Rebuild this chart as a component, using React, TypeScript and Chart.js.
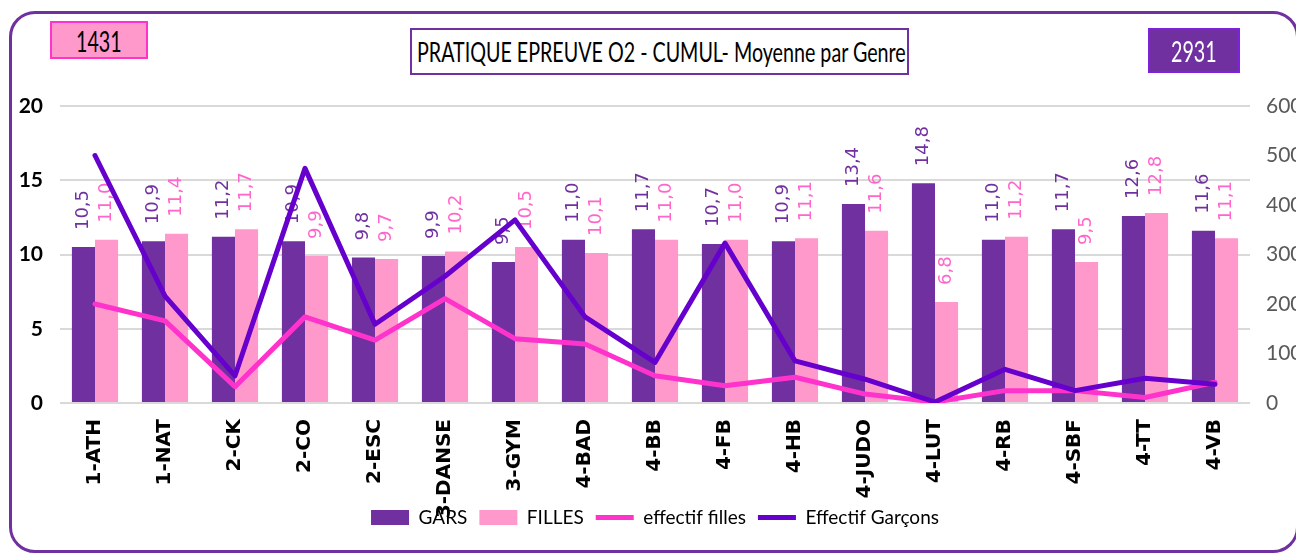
import React, { useEffect, useRef } from "react";
import { Chart, registerables } from "chart.js";

Chart.register(...registerables);

const categories = [
  "1-ATH", "1-NAT", "2-CK", "2-CO", "2-ESC", "3-DANSE", "3-GYM", "4-BAD", "4-BB",
  "4-FB", "4-HB", "4-JUDO", "4-LUT", "4-RB", "4-SBF", "4-TT", "4-VB",
];
const garsMoyenne = [10.5, 10.9, 11.2, 10.9, 9.8, 9.9, 9.5, 11.0, 11.7, 10.7, 10.9, 13.4, 14.8, 11.0, 11.7, 12.6, 11.6];
const fillesMoyenne = [11.0, 11.4, 11.7, 9.9, 9.7, 10.2, 10.5, 10.1, 11.0, 11.0, 11.1, 11.6, 6.8, 11.2, 9.5, 12.8, 11.1];
const effectifFilles = [200, 166, 33, 174, 127, 211, 130, 119, 55, 35, 52, 18, 2, 25, 25, 11, 42];
const effectifGarcons = [500, 216, 55, 474, 159, 256, 370, 174, 82, 323, 85, 48, 2, 68, 25, 50, 38];
const leftTicks = [0, 5, 10, 15, 20];
const rightTicks = [0, 100, 200, 300, 400, 500, 600];
const totalFilles = "1431";
const totalGarcons = "2931";
const title = "PRATIQUE EPREUVE O2 - CUMUL- Moyenne par Genre";

const CAL = "Lato, 'Liberation Sans', sans-serif";
const VERDANA = "'DejaVu Sans', Verdana, sans-serif";

const barLabelPlugin = {
  id: "barLabels",
  afterLayout(chart: any) {
    // let the long rotated category labels run under the legend, as in the original
    chart.scales.x.bottom = chart.height;
  },
  afterDatasetDraw(chart: any, args: any) {
    const ds = chart.data.datasets[args.index];
    if (ds.type !== "bar") return;
    const ctx = chart.ctx;
    ctx.save();
    ctx.font = `18px ${VERDANA}`;
    ctx.fillStyle = ds.labelColor;
    ctx.textAlign = "left";
    ctx.textBaseline = "middle";
    args.meta.data.forEach((el: any, i: number) => {
      const v = ds.data[i];
      const txt = v.toFixed(1).replace(".", ",");
      ctx.save();
      ctx.translate(el.x, el.y - 17);
      ctx.rotate(-Math.PI / 2);
      ctx.fillText(txt, 0, 0);
      ctx.restore();
    });
    ctx.restore();
  },
};

export default function App() {
  const canvasRef = useRef<HTMLCanvasElement>(null);

  useEffect(() => {
    document.body.style.margin = "0";
    const chart = new Chart(canvasRef.current as HTMLCanvasElement, {
      type: "bar",
      data: {
        labels: categories,
        datasets: [
          {
            type: "bar",
            label: "GARS",
            data: garsMoyenne,
            backgroundColor: "#7030a0",
            borderWidth: 0,
            yAxisID: "y",
            order: 2,
            pointStyle: "rect",
            labelColor: "#7030a0",
          } as any,
          {
            type: "bar",
            label: "FILLES",
            data: fillesMoyenne,
            backgroundColor: "#ff99cc",
            borderWidth: 0,
            yAxisID: "y",
            order: 3,
            pointStyle: "rect",
            labelColor: "#ff66cc",
          } as any,
          {
            type: "line",
            label: "effectif filles",
            data: effectifFilles,
            borderColor: "#ff33cc",
            backgroundColor: "#ff33cc",
            borderWidth: 5,
            borderCapStyle: "round",
            borderJoinStyle: "round",
            pointRadius: 0,
            pointStyle: "line",
            tension: 0,
            yAxisID: "y1",
            order: 1,
          } as any,
          {
            type: "line",
            label: "Effectif Garçons",
            data: effectifGarcons,
            borderColor: "#6600cc",
            backgroundColor: "#6600cc",
            borderWidth: 5,
            borderCapStyle: "round",
            borderJoinStyle: "round",
            pointRadius: 0,
            pointStyle: "line",
            tension: 0,
            yAxisID: "y1",
            order: 0,
          } as any,
        ],
      },
      options: {
        animation: false,
        responsive: false,
        maintainAspectRatio: false,
        layout: { padding: { top: 106, bottom: 17, left: 0, right: 0 } },
        datasets: {
          bar: { categoryPercentage: 0.66, barPercentage: 1.0 },
        },
        plugins: {
          tooltip: { enabled: false },
          legend: {
            position: "bottom",
            fullSize: false,
            labels: {
              usePointStyle: true,
              pointStyleWidth: 38,
              boxHeight: 15,
              padding: 12,
              color: "#000",
              font: { family: CAL, size: 19 },
              sort: (a: any, b: any) => a.datasetIndex - b.datasetIndex,
            },
          },
        },
        scales: {
          x: {
            grid: { display: false, drawTicks: false },
            border: { display: false },
            ticks: {
              autoSkip: false,
              minRotation: 90,
              maxRotation: 90,
              padding: 16,
              color: "#000",
              font: { family: VERDANA, size: 20, weight: "bold" },
            },
            afterFit(scale: any) {
              scale.height = 93;
            },
          },
          y: {
            position: "left",
            min: 0,
            max: 20,
            afterBuildTicks(scale: any) {
              scale.ticks = leftTicks.map((v) => ({ value: v }));
            },
            grid: { color: "#d9d9d9", lineWidth: 2, drawTicks: false },
            border: { display: false },
            ticks: {
              padding: 17,
              color: "#000",
              font: { family: CAL, size: 21, weight: "bold" },
            },
            afterFit(scale: any) {
              scale.width = 60;
            },
          },
          y1: {
            position: "right",
            min: 0,
            max: 600,
            afterBuildTicks(scale: any) {
              scale.ticks = rightTicks.map((v) => ({ value: v }));
            },
            grid: { display: false, drawTicks: false },
            border: { display: false },
            ticks: {
              padding: 16,
              color: "#595959",
              font: { family: CAL, size: 21 },
            },
            afterFit(scale: any) {
              scale.width = 46;
            },
          },
        },
      } as any,
      plugins: [barLabelPlugin],
    });
    return () => chart.destroy();
  }, []);

  return (
    <div style={{ position: "fixed", left: 0, top: 0, width: 1296, height: 554, overflow: "hidden", background: "#fff" }}>
      <canvas ref={canvasRef} width={1296} height={554} style={{ position: "absolute", left: 0, top: 0, width: 1296, height: 554 }} />
      <div
        style={{
          position: "absolute", left: 9, top: 11, width: 1290, height: 542,
          border: "3px solid #7030a0", borderRadius: 26, boxSizing: "border-box", pointerEvents: "none",
        }}
      />
      <div
        style={{
          position: "absolute", left: 50, top: 21, width: 98, height: 38, boxSizing: "border-box",
          background: "#ff99cc", border: "2px solid #ff33cc", display: "flex", alignItems: "center",
          justifyContent: "center", fontFamily: CAL, fontSize: 24, color: "#000",
        }}
      >
        <span style={{ display: "inline-block", transform: "scale(0.82, 1.2)" }}>{totalFilles}</span>
      </div>
      <div
        style={{
          position: "absolute", left: 410, top: 28, width: 499, height: 47, boxSizing: "border-box",
          background: "#fff", border: "2px solid #7030a0", display: "flex", alignItems: "center",
          paddingLeft: 5, fontFamily: CAL, fontSize: 24, color: "#000", whiteSpace: "nowrap",
        }}
      >
        <span style={{ display: "inline-block", transformOrigin: "left center", transform: "scale(0.82, 1.1)" }}>{title}</span>
      </div>
      <div
        style={{
          position: "absolute", left: 1148, top: 28, width: 92, height: 45, boxSizing: "border-box",
          background: "#7030a0", border: "2px solid #7f1fe0", display: "flex", alignItems: "center",
          justifyContent: "center", fontFamily: CAL, fontSize: 24, color: "#fff",
        }}
      >
        <span style={{ display: "inline-block", transform: "scale(0.82, 1.2)" }}>{totalGarcons}</span>
      </div>
    </div>
  );
}
